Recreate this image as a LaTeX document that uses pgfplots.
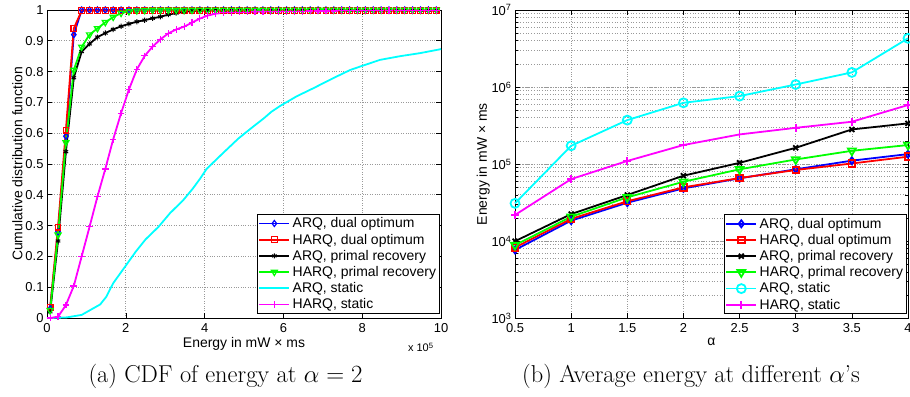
\documentclass[border=0pt]{standalone}
\usepackage{pgfplots}
\pgfplotsset{compat=1.18}
\usepackage{pgfplotstable}
\usepackage{fontspec}
\newfontfamily\arial{Liberation Sans}
\definecolor{mblue}{RGB}{0,0,255}
\definecolor{mred}{RGB}{255,0,0}
\definecolor{mgreen}{RGB}{0,255,0}
\definecolor{mcyan}{RGB}{0,255,255}
\definecolor{mmag}{RGB}{255,0,255}

\pgfplotstableread{
x ad hd ap hp hs
0.08 0.03 0.035 0.02 0.025 0.0
0.28 0.28 0.295 0.25 0.27 0.004
0.48 0.59 0.61 0.54 0.57 0.042
0.68 0.92 0.94 0.78 0.805 0.104
0.88 1.0 0.998 0.865 0.88 0.20
1.08 1.0 0.998 0.89 0.92 0.296
1.28 1.0 0.998 0.912 0.94 0.394
1.48 1.0 0.998 0.925 0.96 0.484
1.68 1.0 0.998 0.937 0.977 0.58
1.88 1.0 0.998 0.947 0.99 0.665
2.08 1.0 0.998 0.955 0.995 0.742
2.28 1.0 0.998 0.962 0.998 0.807
2.48 1.0 0.998 0.967 0.999 0.851
2.68 1.0 0.998 0.973 1.0 0.881
2.88 1.0 0.998 0.978 1.0 0.905
3.08 1.0 0.998 0.985 1.0 0.924
3.28 1.0 0.998 0.99 1.0 0.937
3.48 1.0 0.998 0.994 1.0 0.946
3.68 1.0 0.998 0.997 1.0 0.959
3.88 1.0 0.998 0.999 1.0 0.972
4.08 1.0 0.998 1.0 1.0 0.982
4.28 1.0 0.998 1.0 1.0 0.988
4.48 1.0 0.998 1.0 1.0 0.991
4.68 1.0 0.998 1.0 1.0 0.992
4.88 1.0 0.998 1.0 1.0 0.993
5.08 1.0 0.998 1.0 1.0 0.993
5.28 1.0 0.998 1.0 1.0 0.994
5.48 1.0 0.998 1.0 1.0 0.994
5.68 1.0 0.998 1.0 1.0 0.995
5.88 1.0 0.998 1.0 1.0 0.995
6.08 1.0 0.998 1.0 1.0 0.996
6.28 1.0 0.998 1.0 1.0 0.996
6.48 1.0 0.998 1.0 1.0 0.996
6.68 1.0 0.998 1.0 1.0 0.997
6.88 1.0 0.998 1.0 1.0 0.997
7.08 1.0 0.998 1.0 1.0 0.997
7.28 1.0 0.998 1.0 1.0 0.997
7.48 1.0 0.998 1.0 1.0 0.998
7.68 1.0 0.998 1.0 1.0 0.998
7.88 1.0 0.998 1.0 1.0 0.998
8.08 1.0 0.998 1.0 1.0 0.998
8.28 1.0 0.998 1.0 1.0 0.998
8.48 1.0 0.998 1.0 1.0 0.999
8.68 1.0 0.998 1.0 1.0 0.999
8.88 1.0 0.998 1.0 1.0 0.999
9.08 1.0 0.998 1.0 1.0 0.999
9.28 1.0 0.998 1.0 1.0 0.999
9.48 1.0 0.998 1.0 1.0 0.999
9.68 1.0 0.998 1.0 1.0 0.999
9.88 1.0 0.998 1.0 1.0 0.999
}\cdfdata

\pgfplotstableread{
x y
0.08 0.0
0.5 0.002
0.88 0.01
1.1 0.026
1.35 0.044
1.5 0.068
1.68 0.113
2.0 0.17
2.25 0.215
2.5 0.255
2.83 0.296
3.12 0.34
3.46 0.383
3.7 0.42
3.9 0.455
4.05 0.484
4.48 0.537
4.86 0.583
5.2 0.618
5.5 0.648
5.7 0.67
5.91 0.688
6.34 0.72
6.76 0.746
7.27 0.779
7.69 0.805
8.03 0.82
8.45 0.838
8.96 0.85
9.47 0.86
10.0 0.873
}\cyandata

\pgfplotstableread{
a ad hd ap hp as hs
0.5 7.7e3 8.3e3 1.0e4 8.9e3 3.1e4 2.19e4
1.0 1.85e4 1.95e4 2.25e4 2.08e4 1.73e5 6.4e4
1.5 3.16e4 3.3e4 3.98e4 3.71e4 3.73e5 1.1e5
2.0 4.85e4 5.0e4 7.08e4 5.91e4 6.25e5 1.77e5
2.5 6.55e4 6.6e4 1.04e5 8.57e4 7.64e5 2.43e5
3.0 8.57e4 8.4e4 1.63e5 1.15e5 1.08e6 2.96e5
3.5 1.11e5 1.02e5 2.82e5 1.49e5 1.55e6 3.55e5
4.0 1.35e5 1.25e5 3.38e5 1.77e5 4.29e6 5.85e5
}\avgdata

\pgfplotsset{
  mystyle/.style={
    scale only axis,
    axis line style={line width=0.8bp},
    tick style={line width=0.6bp, black},
    major tick length=5bp,
    minor tick length=3bp,
    tick align=inside,
    grid style={dotted, line width=0.7bp, gray!80},
    /pgf/number format/assume math mode=true,
    ticklabel style={font=\arial\fontsize{13}{15}\selectfont},
    xticklabel style={yshift=-2bp},
    label style={font=\arial\fontsize{14}{16}\selectfont},
    xlabel style={yshift=2bp},
    legend cell align=left,
    legend style={font=\arial\fontsize{14}{15}\selectfont, draw=black, thick,
      at={(1,0)}, anchor=south east, xshift=-1bp, yshift=4bp, inner sep=1bp,
      nodes={inner xsep=2.5bp, inner ysep=2.3bp}},
    legend image code/.code={\draw[mark repeat=2,mark phase=2,line width=1.8bp] plot coordinates {(0bp,0bp) (15bp,0bp) (30bp,0bp)};},
    clip=false,
  }
}

\begin{document}
\begin{tikzpicture}
\begin{axis}[mystyle, at={(47bp,79bp)}, anchor=south west, width=394bp, height=308bp,
  xmin=0, xmax=10, ymin=0, ymax=1, xtick={0,2,4,6,8,10}, ytick={0,0.1,0.2,0.3,0.4,0.5,0.6,0.7,0.8,0.9,1},
  yticklabel style={/pgf/number format/fixed, /pgf/number format/precision=1},
  xmajorgrids, ymajorgrids,
  ylabel style={yshift=-4bp},
  xlabel={Energy in mW × ms}, ylabel={Cumulative distribution function}]
\addplot[mblue, line width=1.8bp, mark=diamond, mark size=3bp, mark options={solid, line width=1.2bp}] table[x=x,y=ad] {\cdfdata};
\addlegendentry{ARQ, dual optimum}
\addplot[mred, line width=1.8bp, mark=square, mark size=2.8bp, mark options={solid, line width=1.2bp}] table[x=x,y=hd] {\cdfdata};
\addlegendentry{HARQ, dual optimum}
\addplot[black, line width=1.8bp, mark=asterisk, mark size=2.6bp, mark options={solid, line width=1bp}] table[x=x,y=ap] {\cdfdata};
\addlegendentry{ARQ, primal recovery}
\addplot[mgreen, line width=1.8bp, mark=triangle, mark size=3.5bp, mark options={solid, rotate=180, line width=1.2bp}] table[x=x,y=hp] {\cdfdata};
\addlegendentry{HARQ, primal recovery}
\addplot[mcyan, line width=1.8bp] table[x=x,y=y] {\cyandata};
\addlegendentry{ARQ, static}
\addplot[mmag, line width=1.8bp, mark=+, mark size=3.3bp, mark options={solid, line width=1.2bp}] table[x=x,y=hs] {\cdfdata};
\addlegendentry{HARQ, static}
\node[anchor=base east, font=\arial\fontsize{11}{13}\selectfont] at (rel axis cs:0.99,0) [yshift=-34bp] {x 10\textsuperscript{5}};
\end{axis}

\begin{axis}[mystyle, ymode=log, at={(515bp,78.7bp)}, anchor=south west, width=393bp, height=308.3bp,
  xmin=0.5, xmax=4, ymin=1e3, ymax=1e7, xtick={0.5,1,1.5,2,2.5,3,3.5,4},
  ytick={1e3,1e4,1e5,1e6,1e7},
  yticklabels={10\textsuperscript{3},10\textsuperscript{4},10\textsuperscript{5},10\textsuperscript{6},10\textsuperscript{7}},
  xmajorgrids, ymajorgrids, yminorgrids, minor grid style={dotted, line width=0.7bp, gray!80},
  ylabel style={yshift=-5bp},
  xlabel={α}, ylabel={Energy in mW × ms}]
\addplot[mblue, line width=1.8bp, mark=diamond, mark size=3.5bp, mark options={solid}] table[x=a,y=ad] {\avgdata};
\addlegendentry{ARQ, dual optimum}
\addplot[mred, line width=1.8bp, mark=square, mark size=3.3bp, mark options={solid}] table[x=a,y=hd] {\avgdata};
\addlegendentry{HARQ, dual optimum}
\addplot[black, line width=1.8bp, mark=x, mark size=3.5bp, mark options={solid}] table[x=a,y=ap] {\avgdata};
\addlegendentry{ARQ, primal recovery}
\addplot[mgreen, line width=1.8bp, mark=triangle, mark size=4.5bp, mark options={solid, rotate=180}] table[x=a,y=hp] {\avgdata};
\addlegendentry{HARQ, primal recovery}
\addplot[mcyan, line width=1.8bp, mark=o, mark size=4.5bp, mark options={solid}] table[x=a,y=as] {\avgdata};
\addlegendentry{ARQ, static}
\addplot[mmag, line width=1.8bp, mark=+, mark size=4bp, mark options={solid}] table[x=a,y=hs] {\avgdata};
\addlegendentry{HARQ, static}
\end{axis}

\node[anchor=base, font=\fontsize{24.5}{28}\selectfont] at (225.5bp,15bp) {(a) CDF of energy at $\alpha = 2$};
\node[anchor=base, font=\fontsize{24.5}{28}\selectfont] at (691bp,15bp) {(b) Average energy at different $\alpha$'s};

\pgfresetboundingbox
\useasboundingbox (0,0) rectangle (910bp,397bp);
\end{tikzpicture}
\end{document}
